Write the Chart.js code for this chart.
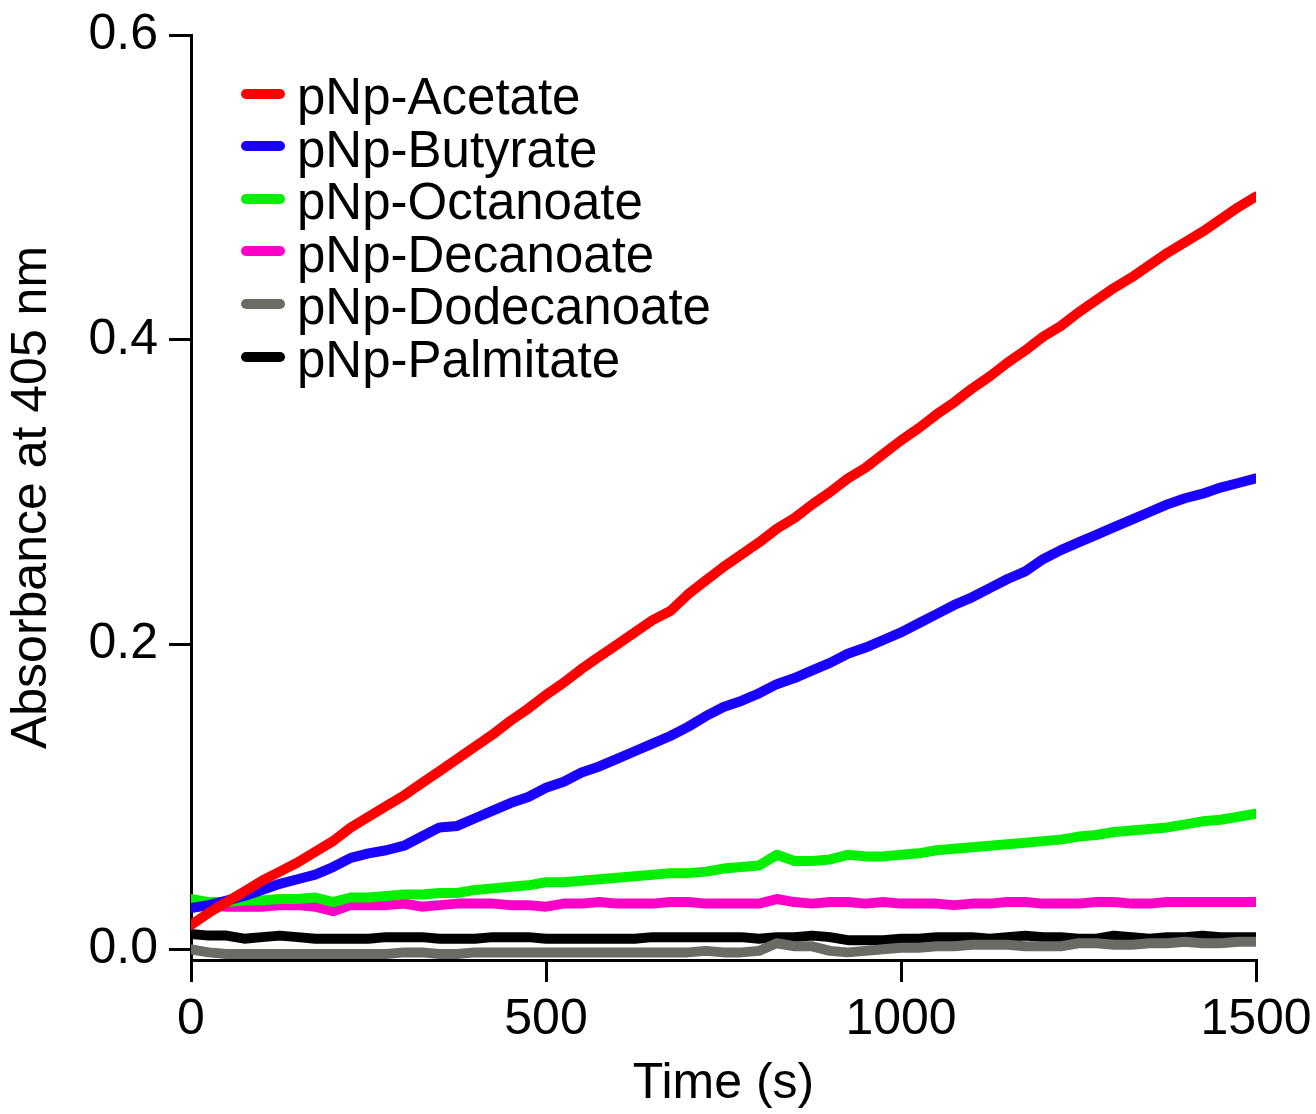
<!DOCTYPE html>
<html>
<head>
<meta charset="utf-8">
<title>Absorbance at 405 nm</title>
<script src="https://cdn.jsdelivr.net/npm/chart.js@4.4.1/dist/chart.umd.min.js"></script>
<style>
  html, body { margin: 0; padding: 0; background: #fff; }
  #wrap { position: relative; width: 1316px; height: 1114px; }
  #legend {
    position: absolute; left: 241px; top: 71px;
    font-family: "Liberation Sans", Arial, sans-serif; font-size: 51px; color: #000;
  }
  .legend-row { height: 52.6px; line-height: 52px; white-space: nowrap; }
  .legend-swatch {
    display: inline-block; width: 44px; height: 10px; border-radius: 5px;
    vertical-align: 0.3em; margin-right: 12px;
  }
</style>
</head>
<body>
<div id="wrap">
  <canvas id="absorbanceChart"></canvas>
  <div id="legend"></div>
</div>
<script>
// time axis (s)
const timePoints = [
  0, 25, 50, 75, 100, 125, 150, 175, 200, 225,
  250, 275, 300, 325, 350, 375, 400, 425, 450, 475,
  500, 525, 550, 575, 600, 625, 650, 675, 700, 725,
  750, 775, 800, 825, 850, 875, 900, 925, 950, 975,
  1000, 1025, 1050, 1075, 1100, 1125, 1150, 1175, 1200, 1225,
  1250, 1275, 1300, 1325, 1350, 1375, 1400, 1425, 1450, 1475,
  1500
];

// absorbance readings
const acetate = [
  0.016, 0.024, 0.031, 0.038, 0.045, 0.051, 0.057, 0.064, 0.071, 0.080,
  0.087, 0.094, 0.101, 0.109, 0.117, 0.125, 0.133, 0.141, 0.150, 0.158,
  0.167, 0.175, 0.184, 0.192, 0.200, 0.208, 0.216, 0.222, 0.233, 0.242,
  0.251, 0.259, 0.267, 0.276, 0.283, 0.292, 0.300, 0.309, 0.316, 0.325,
  0.334, 0.342, 0.351, 0.359, 0.368, 0.376, 0.385, 0.393, 0.402, 0.409,
  0.418, 0.426, 0.434, 0.441, 0.449, 0.457, 0.464, 0.471, 0.479, 0.487,
  0.494
];
const butyrate = [
  0.027, 0.029, 0.032, 0.035, 0.039, 0.043, 0.046, 0.049, 0.054, 0.060,
  0.063, 0.065, 0.068, 0.074, 0.080, 0.081, 0.086, 0.091, 0.096, 0.100,
  0.106, 0.110, 0.116, 0.120, 0.125, 0.130, 0.135, 0.140, 0.146, 0.153,
  0.159, 0.163, 0.168, 0.174, 0.178, 0.183, 0.188, 0.194, 0.198, 0.203,
  0.208, 0.214, 0.220, 0.226, 0.231, 0.237, 0.243, 0.248, 0.256, 0.262,
  0.267, 0.272, 0.277, 0.282, 0.287, 0.292, 0.296, 0.299, 0.303, 0.306,
  0.309
];
const octanoate = [
  0.033, 0.031, 0.031, 0.032, 0.032, 0.033, 0.033, 0.034, 0.031, 0.034,
  0.034, 0.035, 0.036, 0.036, 0.037, 0.037, 0.039, 0.040, 0.041, 0.042,
  0.044, 0.044, 0.045, 0.046, 0.047, 0.048, 0.049, 0.050, 0.050, 0.051,
  0.053, 0.054, 0.055, 0.062, 0.058, 0.058, 0.059, 0.062, 0.061, 0.061,
  0.062, 0.063, 0.065, 0.066, 0.067, 0.068, 0.069, 0.070, 0.071, 0.072,
  0.074, 0.075, 0.077, 0.078, 0.079, 0.080, 0.082, 0.084, 0.085, 0.087,
  0.089
];
const decanoate = [
  0.030, 0.029, 0.028, 0.028, 0.028, 0.029, 0.029, 0.028, 0.025, 0.029,
  0.029, 0.029, 0.030, 0.028, 0.029, 0.030, 0.030, 0.030, 0.029, 0.029,
  0.028, 0.030, 0.030, 0.031, 0.030, 0.030, 0.030, 0.031, 0.031, 0.030,
  0.030, 0.030, 0.030, 0.033, 0.031, 0.030, 0.031, 0.031, 0.030, 0.031,
  0.030, 0.030, 0.030, 0.029, 0.030, 0.030, 0.031, 0.031, 0.030, 0.030,
  0.030, 0.031, 0.031, 0.030, 0.030, 0.031, 0.031, 0.031, 0.031, 0.031,
  0.031
];
const dodecanoate = [
  0.000, -0.002, -0.003, -0.003, -0.003, -0.003, -0.003, -0.003, -0.003, -0.003,
  -0.003, -0.003, -0.002, -0.002, -0.003, -0.003, -0.002, -0.002, -0.002, -0.002,
  -0.002, -0.002, -0.002, -0.002, -0.002, -0.002, -0.002, -0.002, -0.002, -0.001,
  -0.002, -0.002, -0.001, 0.004, 0.002, 0.002, -0.001, -0.002, -0.001, 0.000,
  0.001, 0.001, 0.002, 0.002, 0.003, 0.003, 0.003, 0.002, 0.002, 0.002,
  0.004, 0.004, 0.003, 0.003, 0.004, 0.004, 0.005, 0.004, 0.004, 0.005,
  0.005
];
const palmitate = [
  0.010, 0.009, 0.009, 0.007, 0.008, 0.009, 0.008, 0.007, 0.007, 0.007,
  0.007, 0.008, 0.008, 0.008, 0.007, 0.007, 0.007, 0.008, 0.008, 0.008,
  0.007, 0.007, 0.007, 0.007, 0.007, 0.007, 0.008, 0.008, 0.008, 0.008,
  0.008, 0.008, 0.007, 0.008, 0.008, 0.009, 0.008, 0.006, 0.006, 0.006,
  0.007, 0.007, 0.008, 0.008, 0.008, 0.007, 0.008, 0.009, 0.008, 0.008,
  0.007, 0.007, 0.009, 0.008, 0.007, 0.008, 0.008, 0.009, 0.008, 0.008,
  0.008
];

const seriesLabels = ["pNp-Acetate", "pNp-Butyrate", "pNp-Octanoate", "pNp-Decanoate", "pNp-Dodecanoate", "pNp-Palmitate"];
const seriesColors = ["#ff0000", "#1a00ff", "#00f000", "#ff00c8", "#6b6b66", "#000000"];
const seriesValues = [acetate, butyrate, octanoate, decanoate, dodecanoate, palmitate];

const xTicks = [0, 500, 1000, 1500];
const yTicks = [0.0, 0.2, 0.4, 0.6];

const FONT = "'Liberation Sans', Arial, sans-serif";

document.addEventListener("DOMContentLoaded", function () {
  initAbsorbanceChart();
});

function initAbsorbanceChart() {
  const canvas = document.getElementById("absorbanceChart");
  Chart.defaults.font.family = FONT;
  Chart.defaults.color = "#000";

  const datasets = seriesLabels.map(function (label, i) {
    return {
      label: label,
      data: timePoints.map((t, j) => ({ x: t, y: seriesValues[i][j] })),
      borderColor: seriesColors[i],
      backgroundColor: seriesColors[i],
      borderWidth: 10,
      borderCapStyle: "round",
      borderJoinStyle: "round",
      pointRadius: 0,
      tension: 0,
      fill: false,
    };
  });

  // black axes with outward ticks, no gridlines inside
  const axisGrid = {
    display: true,
    drawOnChartArea: false,
    drawTicks: true,
    tickLength: 22,
    color: "#000",
    tickColor: "#000",
    lineWidth: 3,
    tickWidth: 3,
  };
  const axisBorder = { display: true, color: "#000", width: 3 };

  window.absorbanceChart = new Chart(canvas, {
    type: "line",
    data: { datasets: datasets },
    options: {
      responsive: true,
      maintainAspectRatio: false,
      animation: false,
      layout: { padding: { left: 0, right: 60, top: 35, bottom: 0 } },
      plugins: {
        legend: { display: false },
        tooltip: { enabled: false },
      },
      scales: {
        x: {
          type: "linear",
          min: 0,
          max: 1500,
          grid: axisGrid,
          border: axisBorder,
          afterBuildTicks: function (scale) {
            scale.ticks = xTicks.map((v) => ({ value: v }));
          },
          afterFit: function (scale) {
            scale.height = 154;
            scale.paddingLeft = 0;
            scale.paddingRight = 0;
          },
          ticks: {
            padding: 8,
            font: { size: 50 },
            maxRotation: 0,
            callback: (v) => String(v),
          },
          title: {
            display: true,
            text: "Time (s)",
            font: { size: 50 },
            padding: { top: 0, bottom: 0 },
          },
        },
        y: {
          type: "linear",
          min: -0.007,
          max: 0.6,
          grid: axisGrid,
          border: axisBorder,
          afterBuildTicks: function (scale) {
            scale.ticks = yTicks.map((v) => ({ value: v }));
          },
          afterFit: function (scale) {
            scale.width = 191;
            scale.paddingTop = 0;
            scale.paddingBottom = 0;
          },
          ticks: {
            padding: 11,
            font: { size: 50 },
            callback: (v) => Number(v).toFixed(1),
          },
          title: {
            display: true,
            text: "Absorbance at 405 nm",
            font: { size: 50 },
            padding: { top: 2, bottom: 0 },
          },
        },
      },
    },
  });

  buildLegend();
}

function buildLegend() {
  const legend = document.getElementById("legend");
  seriesLabels.forEach(function (label, i) {
    const row = document.createElement("div");
    row.className = "legend-row";
    const swatch = document.createElement("span");
    swatch.className = "legend-swatch";
    swatch.style.background = seriesColors[i];
    row.appendChild(swatch);
    row.appendChild(document.createTextNode(label));
    legend.appendChild(row);
  });
}
</script>
</body>
</html>
